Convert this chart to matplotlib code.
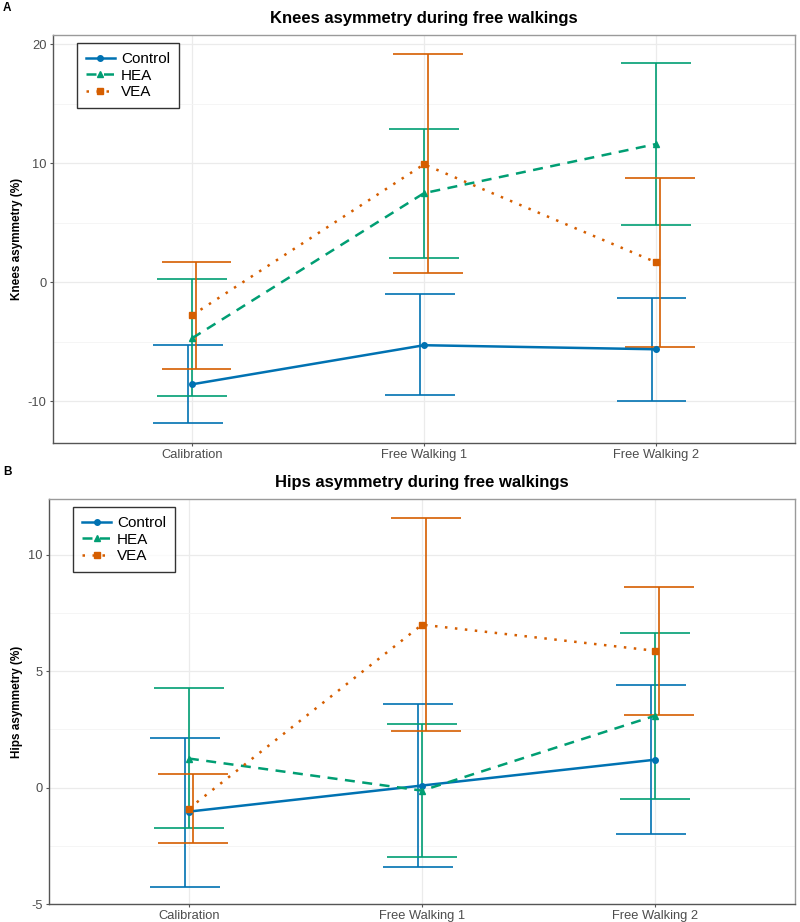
import numpy as np
import matplotlib.pyplot as plt
from matplotlib.ticker import MultipleLocator

plt.rcParams["font.family"] = ["Liberation Sans", "DejaVu Sans"]
plt.rcParams["axes.unicode_minus"] = False

conditions = ["Calibration", "Free Walking 1", "Free Walking 2"]
groups = ["Control", "HEA", "VEA"]

# Knees asymmetry (%): mean, lower and upper bound of error bar
knees_mean = {
    "Control": [-8.57, -5.29, -5.63],
    "HEA": [-4.7, 7.48, 11.6],
    "VEA": [-2.77, 9.9, 1.68],
}
knees_low = {
    "Control": [-11.85, -9.5, -10.0],
    "HEA": [-9.58, 2.0, 4.79],
    "VEA": [-7.3, 0.76, -5.46],
}
knees_high = {
    "Control": [-5.29, -1.0, -1.34],
    "HEA": [0.25, 12.86, 18.4],
    "VEA": [1.68, 19.16, 8.74],
}

# Hips asymmetry (%)
hips_mean = {
    "Control": [-1.03, 0.09, 1.2],
    "HEA": [1.25, -0.13, 3.09],
    "VEA": [-0.9, 7.0, 5.88],
}
hips_low = {
    "Control": [-4.25, -3.4, -2.0],
    "HEA": [-1.72, -3.0, -0.5],
    "VEA": [-2.36, 2.45, 3.13],
}
hips_high = {
    "Control": [2.15, 3.6, 4.42],
    "HEA": [4.3, 2.75, 6.65],
    "VEA": [0.6, 11.6, 8.63],
}

colors = {"Control": "#0072B2", "HEA": "#009E73", "VEA": "#D55E00"}
styles = {"Control": "-", "HEA": (0, (4, 3)), "VEA": (0, (1, 3))}
markers = {"Control": "o", "HEA": "^", "VEA": "s"}
dodge = {"Control": -0.018, "HEA": 0.0, "VEA": 0.018}

W, H = 800, 922


def draw_panel(ax, mean, low, high, ylabel, ylim, major, minor, left_px):
    x = np.arange(len(conditions))
    for g in groups:
        c = colors[g]
        xe = x + dodge[g]
        m = np.array(mean[g])
        lo = np.array(low[g])
        hi = np.array(high[g])
        ax.errorbar(xe, m, yerr=[m - lo, hi - m], fmt="none", ecolor=c,
                    elinewidth=1.2, capsize=0, zorder=3)
        ax.hlines(lo, xe - 0.15, xe + 0.15, color=c, lw=1.2, zorder=3)
        ax.hlines(hi, xe - 0.15, xe + 0.15, color=c, lw=1.2, zorder=3)
        ax.plot(x, m, color=c, linestyle=styles[g], lw=1.8, marker=markers[g],
                markersize=4, label=g, zorder=4)

    ax.set_xlim(-0.6, 2.6)
    ax.set_ylim(*ylim)
    ax.set_xticks(x)
    ax.set_xticklabels(conditions)
    ax.yaxis.set_major_locator(MultipleLocator(major))
    ax.yaxis.set_minor_locator(MultipleLocator(minor))
    ax.grid(True, which="major", color="#ebebeb", lw=0.9)
    ax.grid(True, which="minor", axis="y", color="#f4f4f4", lw=0.6)
    ax.set_axisbelow(True)
    for s in ax.spines.values():
        s.set_color("#9a9a9a")
        s.set_linewidth(1.0)
    ax.spines["left"].set_color("#555555")
    ax.spines["bottom"].set_color("#555555")
    ax.tick_params(axis="both", which="major", labelsize=9.3, colors="#555555",
                   labelcolor="#4d4d4d", length=2.5, pad=2)
    ax.tick_params(axis="y", which="minor", length=0)
    ax.set_ylabel(ylabel, fontsize=8.5, fontweight="bold")
    ax.yaxis.set_label_coords(-(left_px - 23) / (795 - left_px), 0.5)
    leg = ax.legend(loc="upper left", bbox_to_anchor=(0.032, 0.98), fontsize=11,
                    frameon=True, fancybox=False, edgecolor="black",
                    handlelength=1.9, handletextpad=0.4, borderpad=0.6,
                    labelspacing=0.15, borderaxespad=0)
    leg.get_frame().set_linewidth(1.0)


fig = plt.figure(figsize=(8, 9.22), dpi=100)

ax1 = fig.add_axes([53 / W, 1 - 443 / H, (795 - 53) / W, (443 - 35) / H])
draw_panel(ax1, knees_mean, knees_low, knees_high, "Knees asymmetry (%)",
           (-13.5, 20.76), 10, 5, 53)
ax1.set_title("Knees asymmetry during free walkings", fontsize=12,
              fontweight="bold", pad=9)

ax2 = fig.add_axes([49 / W, 1 - 904 / H, (795 - 49) / W, (904 - 499) / H])
draw_panel(ax2, hips_mean, hips_low, hips_high, "Hips asymmetry (%)",
           (-5.0, 12.4), 5, 2.5, 49)
ax2.set_title("Hips asymmetry during free walkings", fontsize=12,
              fontweight="bold", pad=9)

fig.text(3 / W, 1 - 8 / H, "A", fontsize=8.5, fontweight="bold", va="center")
fig.text(3 / W, 1 - 472 / H, "B", fontsize=8.5, fontweight="bold", va="center")

fig.savefig("out.png", dpi=100)
